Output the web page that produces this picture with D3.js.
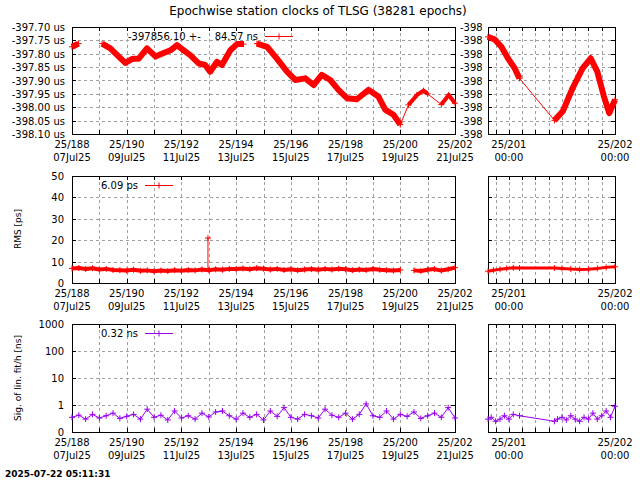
<!DOCTYPE html>
<html><head><meta charset="utf-8">
<script src="https://cdn.jsdelivr.net/npm/d3@7"></script>
<style>body{margin:0;background:#fff}text{font-family:"DejaVu Sans",sans-serif;font-size:10px;fill:#000}</style>
</head><body><svg id="c" width="640" height="480"></svg>
<script>
// ---- data ----
const title = "Epochwise station clocks of TLSG (38281 epochs)";
const clkSegDays = [[188.0,188.12,188.24],[189.1,189.4,189.7,189.95,190.19,190.44,190.74,191.05,191.35,191.6,191.84,192.08,192.32,192.63,192.87,193.05,193.3,193.48,193.79,194.03,194.27],[194.76,195.13,195.49,195.86,196.16,196.53,196.83,197.13,197.44,197.74,198.05,198.41,198.84,199.2,199.45,199.75,200.0],[200.3,200.61,200.85,201.0],[201.5,201.77,202.0]];
const clkSegVals = [[-397.774,-397.768,-397.762],[-397.762,-397.78,-397.81,-397.834,-397.82,-397.818,-397.78,-397.81,-397.797,-397.787,-397.768,-397.787,-397.805,-397.836,-397.842,-397.867,-397.83,-397.842,-397.787,-397.764,-397.764],[-397.762,-397.774,-397.818,-397.867,-397.898,-397.892,-397.917,-397.879,-397.898,-397.935,-397.966,-397.97,-397.935,-397.96,-398.009,-398.028,-398.065],[-397.991,-397.954,-397.938,-397.95],[-397.99,-397.954,-397.985]];
const clkRightSegHours = [[-4.72,-3.2,-1.7,-0.2,1.3,2.4],[10.3,12.2,14.4,16.7,18.5,20,21.5,22.7,24]];
const clkRightSegVals = [[-397.737,-397.747,-397.774,-397.817,-397.854,-397.892],[-398.049,-398.015,-397.929,-397.854,-397.817,-397.867,-397.96,-398.022,-397.972]];
const rmsLeft = [6.8,7.0,6.5,6.9,6.3,6.6,6.1,6.0,5.8,6.2,5.7,5.9,5.5,5.8,5.6,6.0,5.7,6.1,5.9,6.3,6.0,6.4,6.2,6.6,6.5,6.8,6.4,6.9,6.7,6.3,6.6,6.1,6.4,6.0,6.3,6.5,6.2,6.6,6.3,6.7,6.4,6.0,6.3,6.1,6.5,6.2,6.0,5.8,6.1,null,5.9,5.6,6.2,6.5,5.8,6.4,7.2];
const rmsSpikeDay = 192.97, rmsSpikeVal = 21;
const rmsRightHours = [-4.7,-3.5,-2,-0.5,1,2.4,10.3,12,14,16,18,20,22,24];
const rmsRight = [5.5,6.0,6.4,6.8,7.1,7.0,7.0,6.8,6.5,6.3,6.4,6.8,7.3,7.6];
const sigLeft = [0.35,0.42,0.3,0.45,0.33,0.4,0.5,0.32,0.38,0.45,0.3,0.7,0.35,0.42,0.28,0.6,0.33,0.4,0.3,0.5,0.36,0.55,0.6,0.4,0.3,0.5,0.35,0.45,0.28,0.6,0.38,0.8,0.35,0.3,0.45,0.4,0.33,0.7,0.42,0.35,0.5,0.3,0.45,1.1,0.4,0.35,0.6,0.3,0.45,0.38,0.55,0.32,0.4,0.5,0.35,0.8,0.33];
const sigRightHours = [-4.7,-4,-3,-2,-1,0,1,2.4,10.3,11,12,13,14,15,16,17,18,19,20,21,22,23,24];
const sigRight = [0.3,0.35,0.25,0.3,0.4,0.3,0.45,0.4,0.25,0.3,0.35,0.28,0.4,0.3,0.25,0.35,0.3,0.5,0.3,0.4,0.6,0.35,0.9];
const leftTicks = [188,190,192,194,196,198,200,202];
const leftTickDates = ["07Jul25","09Jul25","11Jul25","13Jul25","15Jul25","17Jul25","19Jul25","21Jul25"];
const clkTicks = [-397.70,-397.75,-397.80,-397.85,-397.90,-397.95,-398.00,-398.05,-398.10];
const rmsTicks = [0,10,20,30,40,50];
const sigTicks = [0.1,1,10,100,1000];
const sigTickLabels = ["0","1","10","100","1000"];
const legends = {clk:["-397856.10 +-","84.57 ns"], rms:"6.09 ps", sig:"0.32 ns"};

// ---- drawing ----
const svg = d3.select("#c");
const RED="#ff0000", VIO="#9900ee";
const L={x0:72,x1:455}, R={x0:488,x1:615};
const panels=[{y0:27,y1:134},{y0:176,y1:283},{y0:324,y1:432}];
const xl=d3.scaleLinear().domain([188,202]).range([L.x0,L.x1]);
const xr=d3.scaleLinear().domain([-4.72,24]).range([R.x0,R.x1]);
const yc=d3.scaleLinear().domain([-398.10,-397.70]).range([panels[0].y1,panels[0].y0]);
const ym=d3.scaleLinear().domain([0,50]).range([panels[1].y1,panels[1].y0]);
const ys=d3.scaleLog().domain([0.1,1000]).range([panels[2].y1,panels[2].y0]);
const days=d3.range(188,203), hrs=d3.range(-3,25,3);

svg.append("text").attr("x",318).attr("y",15).attr("text-anchor","middle").style("font-size","12px").text(title);

function frame(p,ys_,yt,isRight){
  const X=isRight?R:L, xs=isRight?xr:xl, vt=isRight?hrs:days;
  const g=svg.append("g");
  vt.forEach(t=>{const x=Math.round(xs(t))+.5; if(x>X.x0+1&&x<X.x1-1) g.append("line").attr("x1",x).attr("x2",x).attr("y1",p.y0).attr("y2",p.y1).attr("stroke","#a0a0a0").attr("stroke-dasharray","3,3");});
  yt.forEach(t=>{const y=Math.round(ys_(t))+.5; if(y>p.y0+1&&y<p.y1-1) g.append("line").attr("x1",X.x0).attr("x2",X.x1).attr("y1",y).attr("y2",y).attr("stroke","#a0a0a0").attr("stroke-dasharray","3,3");});
  g.append("rect").attr("x",X.x0+.5).attr("y",p.y0+.5).attr("width",X.x1-X.x0).attr("height",p.y1-p.y0).attr("fill","none").attr("stroke","#000");
  // ticks
  vt.forEach(t=>{const x=Math.round(xs(t))+.5; g.append("line").attr("x1",x).attr("x2",x).attr("y1",p.y1).attr("y2",p.y1-4).attr("stroke","#000");g.append("line").attr("x1",x).attr("x2",x).attr("y1",p.y0).attr("y2",p.y0+4).attr("stroke","#000");});
  yt.forEach(t=>{const y=Math.round(ys_(t))+.5; g.append("line").attr("x1",X.x0).attr("x2",X.x0+4).attr("y1",y).attr("y2",y).attr("stroke","#000");g.append("line").attr("x1",X.x1).attr("x2",X.x1-4).attr("y1",y).attr("y2",y).attr("stroke","#000");});
  // x labels
  if(isRight){[[0,"25/201"],[24,"25/202"]].forEach(([h,s])=>{g.append("text").attr("x",xr(h)).attr("y",p.y1+14).attr("text-anchor","middle").text(s);g.append("text").attr("x",xr(h)).attr("y",p.y1+27).attr("text-anchor","middle").text("00:00");});}
  else leftTicks.forEach((d,i)=>{g.append("text").attr("x",xl(d)).attr("y",p.y1+14).attr("text-anchor","middle").text("25/"+d);g.append("text").attr("x",xl(d)).attr("y",p.y1+27).attr("text-anchor","middle").text(leftTickDates[i]);});
}
frame(panels[0],yc,clkTicks,false);frame(panels[0],yc,clkTicks,true);
frame(panels[1],ym,rmsTicks,false);frame(panels[1],ym,rmsTicks,true);
frame(panels[2],ys,sigTicks,false);frame(panels[2],ys,sigTicks,true);
clkTicks.forEach(t=>{svg.append("text").attr("x",65).attr("y",yc(t)+4).attr("text-anchor","end").text(t.toFixed(2)+" us");svg.append("text").attr("x",460).attr("y",yc(t)+4).text("-398");});
rmsTicks.forEach(t=>svg.append("text").attr("x",64).attr("y",ym(t)+4).attr("text-anchor","end").text(t));
sigTicks.forEach((t,i)=>svg.append("text").attr("x",64).attr("y",ys(t)+4).attr("text-anchor","end").text(sigTickLabels[i]));
svg.append("text").attr("transform","translate(21,229) rotate(-90)").attr("text-anchor","middle").style("font-size","9px").text("RMS [ps]");
svg.append("text").attr("transform","translate(21,378) rotate(-90)").attr("text-anchor","middle").style("font-size","9px").text("Sig. of lin. fit/h [ns]");

function cross(g,x,y,s,c){g.append("path").attr("d",`M${x-s},${y}h${2*s}M${x},${y-s}v${2*s}`).attr("stroke",c).attr("stroke-width",1);}
function series(pts,xs,ysc,c,w,mk){
  const g=svg.append("g");
  g.append("path").datum(pts).attr("d",d3.line().defined(d=>d[1]!=null).x(d=>xs(d[0])).y(d=>ysc(d[1]))).attr("fill","none").attr("stroke",c).attr("stroke-width",w).attr("stroke-linejoin","round");
  if(mk) pts.forEach(d=>{if(d[1]!=null) cross(g,xs(d[0]),ysc(d[1]),mk,c);});
}
// clock
const clipL=svg.append("clipPath").attr("id","cl").append("rect").attr("x",L.x0).attr("y",27).attr("width",L.x1-L.x0+1).attr("height",107);
clkSegDays.forEach((ds,i)=>series(ds.map((d,j)=>[d,clkSegVals[i][j]]),xl,yc,RED,(i==3||i==4)?4:6,3));
series([[200.0,-398.065],[200.3,-397.991]],xl,yc,RED,1,0);
series([[201.0,-397.95],[201.5,-397.99]],xl,yc,RED,1,0);
clkRightSegHours.forEach((hs,i)=>series(hs.map((h,j)=>[h,clkRightSegVals[i][j]]),xr,yc,RED,6,3));
series([[2.4,-397.892],[10.3,-398.049]],xr,yc,RED,1,0);
// rms
const rmsPts=rmsLeft.map((v,i)=>[188+i*0.25,v]);
series(rmsPts,xl,ym,RED,4,3);
series([[rmsSpikeDay,6.5],[rmsSpikeDay,rmsSpikeVal]],xl,ym,RED,1,0);cross(svg,xl(rmsSpikeDay),ym(rmsSpikeVal),3,RED);
series(rmsRightHours.map((h,i)=>[h,rmsRight[i]]),xr,ym,RED,3,3);
// sig
series(sigLeft.map((v,i)=>[188+i*0.25,v]),xl,ys,VIO,1,3);
series(sigRightHours.map((h,i)=>[h,sigRight[i]]),xr,ys,VIO,1,3);
// legends
svg.append("text").attr("x",128).attr("y",40).text(legends.clk[0]);
svg.append("text").attr("x",258).attr("y",40).attr("text-anchor","end").text(legends.clk[1]);
svg.append("line").attr("x1",265).attr("x2",293).attr("y1",36.5).attr("y2",36.5).attr("stroke",RED);cross(svg,279,36.5,3,RED);
svg.append("text").attr("x",101).attr("y",189).text(legends.rms);
svg.append("line").attr("x1",145).attr("x2",173).attr("y1",185.5).attr("y2",185.5).attr("stroke",RED);cross(svg,159,185.5,3,RED);
svg.append("text").attr("x",101).attr("y",337).text(legends.sig);
svg.append("line").attr("x1",145).attr("x2",173).attr("y1",333.5).attr("y2",333.5).attr("stroke",VIO);cross(svg,159,333.5,3,VIO);
svg.append("text").attr("x",5).attr("y",477).style("font-weight","bold").style("font-size","9px").text("2025-07-22 05:11:31");
</script></body></html>
